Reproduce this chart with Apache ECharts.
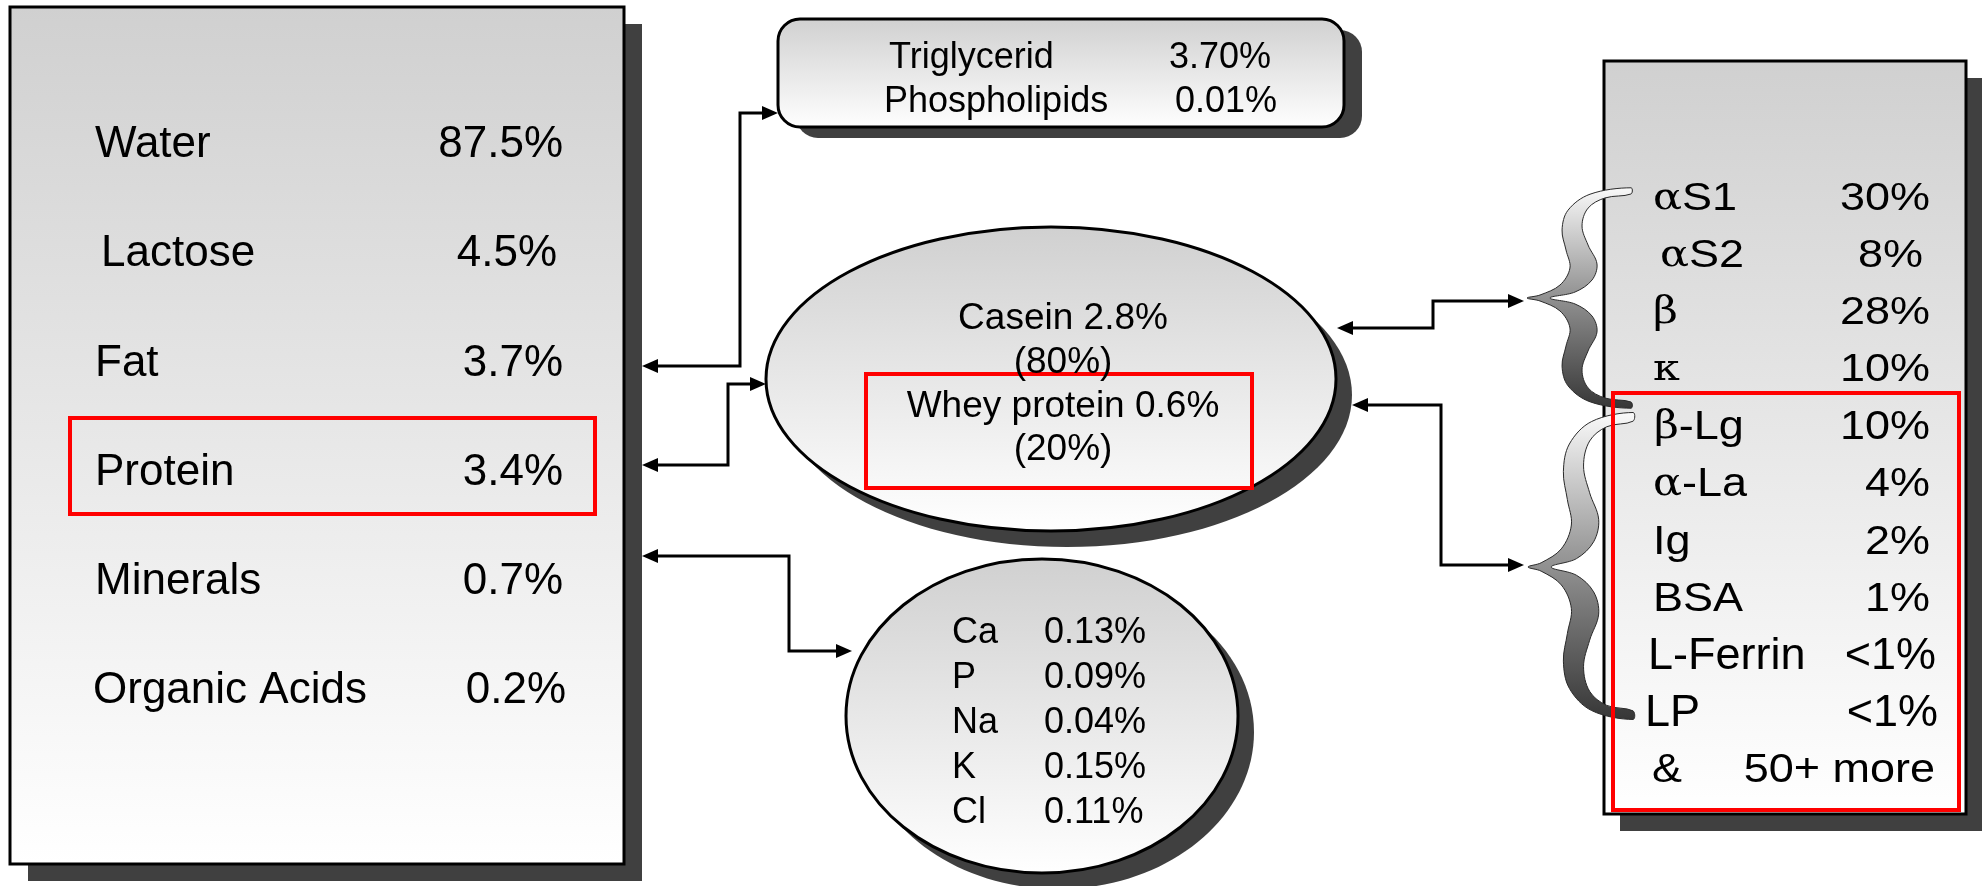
<!DOCTYPE html>
<html>
<head>
<meta charset="utf-8">
<script src="https://cdn.jsdelivr.net/npm/echarts@6/dist/echarts.min.js"></script>
<style>
    html, body { margin: 0; padding: 0; background: #fff; }
    #chart { width: 1983px; height: 886px; }
</style>
</head>
<body>
<div id="chart"></div>
<script>
// --- 牛奶成分数据 ---
const mainNames = ['Water', 'Lactose', 'Fat', 'Protein', 'Minerals', 'Organic Acids'];
const mainValues = ['87.5%', '4.5%', '3.7%', '3.4%', '0.7%', '0.2%'];

const fatNames = ['Triglycerid', 'Phospholipids'];
const fatValues = ['3.70%', '0.01%'];

const proteinLines = ['Casein 2.8%', '(80%)', 'Whey protein 0.6%', '(20%)'];

const mineralNames = ['Ca', 'P', 'Na', 'K', 'Cl'];
const mineralValues = ['0.13%', '0.09%', '0.04%', '0.15%', '0.11%'];

const fractionNames = ['αS1', 'αS2', 'β', 'κ', 'β-Lg', 'α-La', 'Ig', 'BSA', 'L-Ferrin', 'LP', '&'];
const fractionValues = ['30%', '8%', '28%', '10%', '10%', '4%', '2%', '1%', '<1%', '<1%', '50+ more'];

// --- 样式 ---
const FONT = '"Liberation Sans", Arial, sans-serif';
const SERIF = '"DejaVu Serif", "Liberation Serif", serif';
const SHADOW = '#404040';

const grayFill = () => ({
    type: 'linear', x: 0, y: 0, x2: 0, y2: 1,
    colorStops: [{ offset: 0, color: '#d0d0d0' }, { offset: 1, color: '#ffffff' }]
});

function txt(x, y, text, size, align, extra) {
    return Object.assign({
        type: 'text', x: x, y: y, z: 20,
        style: {
            text: text, fill: '#000', font: size + 'px ' + FONT,
            textAlign: align || 'left', textVerticalAlign: 'middle'
        }
    }, extra || {});
}

function redBox(x, y, w, h) {
    return { type: 'rect', z: 15, shape: { x: x, y: y, width: w, height: h },
        style: { fill: null, stroke: '#ff0000', lineWidth: 4 } };
}

function arrowHead(x, y, dir) {
    const L = 16, hw = 7, s = dir === 'left' ? 1 : -1;
    return { type: 'polygon', z: 12, shape: { points: [[x, y], [x + s * L, y - hw], [x + s * L, y + hw]] },
        style: { fill: '#000' } };
}

// 双向箭头连线
function connector(pts) {
    const a = pts[0], b = pts[pts.length - 1];
    const line = pts.map(p => p.slice());
    line[0][0] += (a[0] < pts[1][0] ? 14 : -14);
    line[line.length - 1][0] += (b[0] > pts[pts.length - 2][0] ? -14 : 14);
    return [
        { type: 'polyline', z: 11, shape: { points: line }, style: { stroke: '#000', lineWidth: 3, fill: null } },
        arrowHead(a[0], a[1], a[0] < pts[1][0] ? 'left' : 'right'),
        arrowHead(b[0], b[1], b[0] > pts[pts.length - 2][0] ? 'right' : 'left')
    ];
}

// 花括号（归一化轮廓）
const braceOuter = [[1.0, -1.03], [0.606, -0.97], [0.394, -0.82], [0.337, -0.636], [0.375, -0.449],
    [0.413, -0.28], [0.317, -0.121], [0.125, -0.028], [0, 0]];
const braceInner = [[0.221, 0], [0.462, -0.056], [0.625, -0.168], [0.673, -0.318], [0.587, -0.495],
    [0.529, -0.673], [0.587, -0.84], [0.75, -0.935], [1.0, -0.972]];

function brace(xm, xt, ym, hUp, hDown) {
    const map = (u, v) => [xm + u * (xt - xm), ym + v * (v < 0 ? hUp : hDown)];
    const pts = [];
    braceOuter.forEach(p => pts.push(map(p[0], p[1])));
    braceOuter.slice(0, -1).reverse().forEach(p => pts.push(map(p[0], -p[1])));
    braceInner.slice().reverse().forEach(p => pts.push(map(p[0], -p[1])));
    braceInner.slice(1).forEach(p => pts.push(map(p[0], p[1])));
    return {
        type: 'polygon', z: 10, shape: { points: pts, smooth: 0.35 },
        style: {
            stroke: '#2a2a2a', lineWidth: 1,
            fill: { type: 'linear', x: 0, y: 0, x2: 0, y2: 1,
                colorStops: [{ offset: 0, color: '#fafafa' }, { offset: 0.45, color: '#9a9a9a' },
                    { offset: 1, color: '#363636' }] }
        }
    };
}

const greek = s => s.replace(/[αβκ]/g, c => '{g|' + c + '}');

function buildElements() {
    const els = [];

    // 左侧主成分框
    els.push({ type: 'rect', z: 1, shape: { x: 28, y: 24, width: 614, height: 857 }, style: { fill: SHADOW } });
    els.push({ type: 'rect', z: 2, shape: { x: 10, y: 7, width: 614, height: 857 },
        style: { fill: grayFill(), stroke: '#000', lineWidth: 3 } });
    const mainLabelX = [95, 101, 95, 95, 95, 93];
    const mainValueX = [563, 557, 563, 563, 563, 566];
    mainNames.forEach((n, i) => {
        const y = 145 + i * 109.2;
        els.push(txt(mainLabelX[i], y, n, 44, 'left'));
        els.push(txt(mainValueX[i], y, mainValues[i], 44, 'right'));
    });
    els.push(redBox(70, 418, 525, 96));

    // 脂肪框
    els.push({ type: 'rect', z: 1, shape: { x: 796, y: 30, width: 566, height: 108, r: 22 }, style: { fill: SHADOW } });
    els.push({ type: 'rect', z: 2, shape: { x: 778, y: 19, width: 566, height: 108, r: 22 },
        style: { fill: grayFill(), stroke: '#000', lineWidth: 3 } });
    const fatLabelX = [889, 884];
    const fatValueX = [1271, 1277];
    fatNames.forEach((n, i) => {
        const y = 58 + i * 44.5;
        els.push(txt(fatLabelX[i], y, n, 36, 'left'));
        els.push(txt(fatValueX[i], y, fatValues[i], 36, 'right'));
    });

    // 蛋白椭圆
    els.push({ type: 'ellipse', z: 1, shape: { cx: 1067, cy: 395, rx: 285, ry: 152 }, style: { fill: SHADOW } });
    els.push({ type: 'ellipse', z: 2, shape: { cx: 1051, cy: 379, rx: 285, ry: 152 },
        style: { fill: grayFill(), stroke: '#000', lineWidth: 3 } });
    proteinLines.forEach((t, i) => {
        els.push(txt(1063, 319 + i * 43.7, t, 37, 'center'));
    });
    els.push(redBox(866, 374, 386, 114));

    // 矿物质椭圆
    els.push({ type: 'ellipse', z: 1, shape: { cx: 1058, cy: 732, rx: 196, ry: 157 }, style: { fill: SHADOW } });
    els.push({ type: 'ellipse', z: 2, shape: { cx: 1042, cy: 716, rx: 196, ry: 157 },
        style: { fill: grayFill(), stroke: '#000', lineWidth: 3 } });
    mineralNames.forEach((n, i) => {
        const y = 633 + i * 45;
        els.push(txt(952, y, n, 36, 'left'));
        els.push(txt(1044, y, mineralValues[i], 36, 'left'));
    });

    // 右侧蛋白组分框
    els.push({ type: 'rect', z: 1, shape: { x: 1620, y: 78, width: 362, height: 753 }, style: { fill: SHADOW } });
    els.push({ type: 'rect', z: 2, shape: { x: 1604, y: 61, width: 362, height: 753 },
        style: { fill: grayFill(), stroke: '#000', lineWidth: 3 } });
    const fracLabelX = [1653, 1660, 1653, 1653, 1654, 1653, 1653, 1653, 1648, 1645, 1652];
    const fracValueX = [1930, 1923, 1930, 1930, 1930, 1930, 1930, 1930, 1936, 1938, 1935];
    const fracScaleY = [0.86, 0.86, 0.86, 0.86, 0.9, 0.9, 0.92, 0.92, 1, 1, 0.9];
    fractionNames.forEach((n, i) => {
        const y = 199 + i * 57.2;
        const sy = fracScaleY[i];
        els.push({
            type: 'text', x: fracLabelX[i], y: y, z: 20, scaleY: sy,
            style: {
                text: greek(n), fill: '#000', font: '45px ' + FONT,
                textAlign: 'left', textVerticalAlign: 'middle',
                rich: { g: { fontFamily: SERIF, fontSize: 43, fill: '#000' } }
            }
        });
        els.push(txt(fracValueX[i], y, fractionValues[i], 45, 'right', { scaleY: sy }));
    });
    els.push(redBox(1613, 393, 346, 417));

    // 花括号
    els.push(brace(1527, 1631, 298, 107, 107));
    els.push(brace(1528, 1633, 567, 150, 148));

    // 连接箭头
    [
        [[642, 366], [740, 366], [740, 113], [778, 113]],
        [[642, 465], [728, 465], [728, 384], [766, 384]],
        [[642, 556], [789, 556], [789, 651], [852, 651]],
        [[1337, 328], [1433, 328], [1433, 301], [1524, 301]],
        [[1352, 405], [1441, 405], [1441, 565], [1524, 565]]
    ].forEach(p => connector(p).forEach(e => els.push(e)));

    return els;
}

const chart = echarts.init(document.getElementById('chart'), null, { renderer: 'canvas' });
chart.setOption({
    backgroundColor: '#ffffff',
    animation: false,
    graphic: { elements: buildElements() }
});
</script>
</body>
</html>
